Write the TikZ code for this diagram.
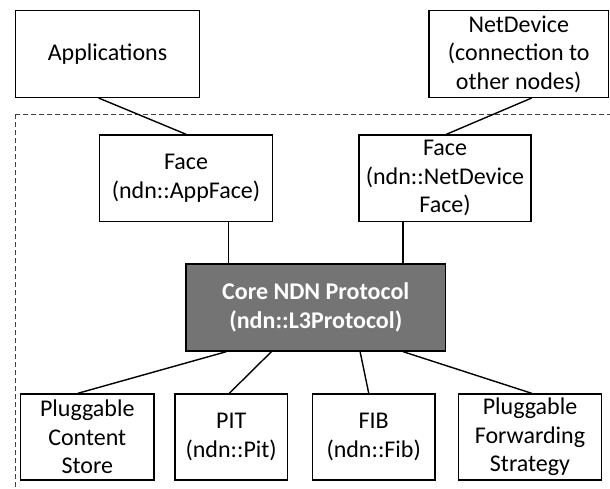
\documentclass[tikz,border=0pt]{standalone}
\usepackage{fontspec}
\setmainfont{Carlito}
\usetikzlibrary{calc}
\definecolor{coregray}{RGB}{116,116,116}
\begin{document}
\begin{tikzpicture}[x=1pt,y=-1pt,
  box/.style={draw=black,line width=1.4pt,fill=white,align=center,inner sep=0pt,
    font=\fontsize{24}{28.5}\selectfont},
  corebox/.style={box,fill=coregray,text=white,font=\fontsize{24}{28.5}\selectfont\bfseries},
  link/.style={draw=black,line width=1.4pt},
  boundary/.style={draw=black!75,line width=0.9pt,dash pattern=on 5pt off 3pt}]
\useasboundingbox (0,0) rectangle (610,489);
\begin{scope}
  \clip (0,0) rectangle (610,489);
  \draw[boundary] (15.7,114) rectangle (640,520);
\end{scope}
% top row
\node[box,minimum width=183.6pt,minimum height=86.6pt] (apps) at (107.5,54) {Applications};
\node[box,minimum width=179.5pt,minimum height=86.6pt] (netdev) at (518.75,54) {NetDevice\\(connection to\\other nodes)};
% faces
\node[box,minimum width=173.4pt,minimum height=86.7pt] (afe) at (186,178.3) {Face\\(ndn::AppFace)};
\node[box,minimum width=172pt,minimum height=86.7pt] (nfe) at (445,178.3) {Face\\(ndn::NetDevice\\Face)};
% core
\node[corebox,minimum width=259.5pt,minimum height=87pt] (core) at (315.75,307.5) {Core NDN Protocol\\(ndn::L3Protocol)};
% bottom row
\node[box,minimum width=133.3pt,minimum height=86pt] (cs) at (87.3,437) {Pluggable\\Content\\Store};
\node[box,minimum width=112.3pt,minimum height=86pt] (pit) at (231.2,437) {PIT\\(ndn::Pit)};
\node[box,minimum width=122.7pt,minimum height=86pt] (fib) at (373.7,437) {FIB\\(ndn::Fib)};
\node[box,minimum width=143.4pt,minimum height=86pt] (strat) at (530,437) {Pluggable\\Forwarding\\Strategy};
% anchor points on the core box
\coordinate (cn1) at ($(core.north west)!0.1667!(core.north east)$);
\coordinate (cn2) at ($(core.north west)!0.834!(core.north east)$);
\coordinate (cs1) at ($(core.south west)!0.157!(core.south east)$);
\coordinate (cs2) at ($(core.south west)!0.33!(core.south east)$);
\coordinate (cs3) at ($(core.south west)!0.67!(core.south east)$);
\coordinate (cs4) at ($(core.south west)!0.835!(core.south east)$);
\coordinate (cstop) at ($(cs.north west)!0.43!(cs.north east)$);
\coordinate (fibtop) at ($(fib.north west)!0.46!(fib.north east)$);
% connectors
\draw[link] (apps.south -| afe.west) -- (afe.north);
\draw[link] (netdev.south -| nfe.east) -- ($(nfe.north)+(1.5,0)$);
\draw[link] (afe.south -| cn1) -- (cn1);
\draw[link] (nfe.south -| cn2) -- (cn2);
\draw[link] (cs1) -- (cstop);
\draw[link] (cs2) -- ($(pit.north)+(-1.9,0)$);
\draw[link] (cs3) -- (fibtop);
\draw[link] (cs4) -- ($(strat.north)+(1.7,0)$);
\end{tikzpicture}
\end{document}
